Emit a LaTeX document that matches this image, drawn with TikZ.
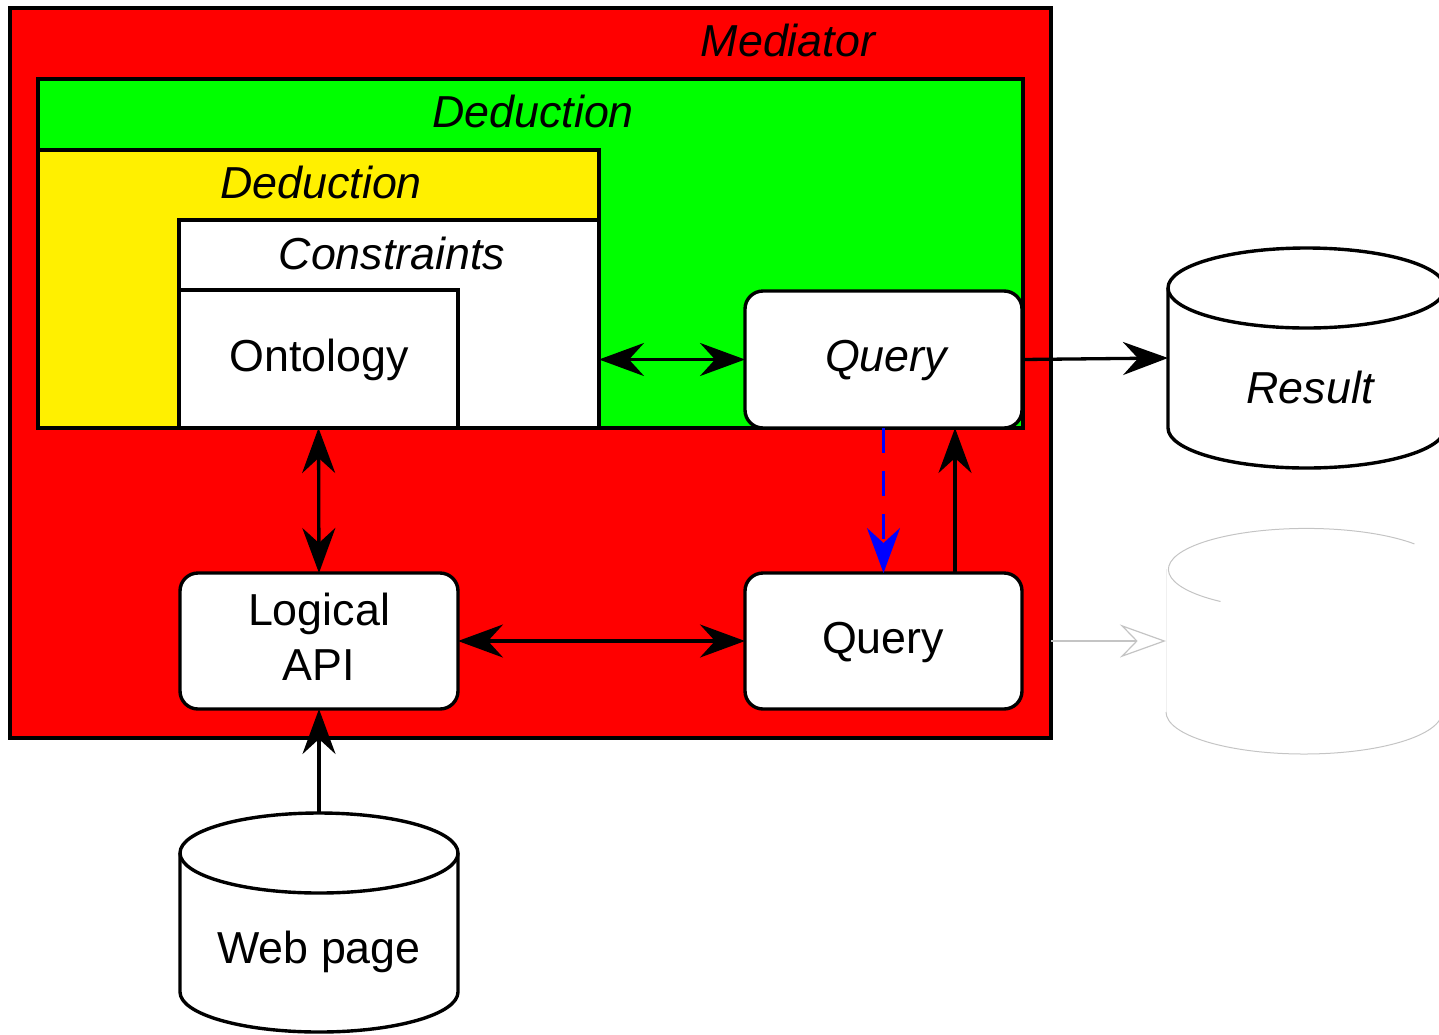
\documentclass[tikz,border=0pt]{standalone}
\usepackage{fontspec}
\setmainfont{Liberation Sans}
\usetikzlibrary{arrows.meta,calc}
\definecolor{medred}{HTML}{FF0000}
\definecolor{dedgreen}{HTML}{00FF00}
\definecolor{dedyellow}{HTML}{FFF000}
\definecolor{faintgray}{HTML}{C4C4C4}
\begin{document}
\begin{tikzpicture}[x=1pt,y=-1pt,
  box/.style={draw=black, line width=3.4pt, inner sep=0pt, outer sep=0pt},
  rbox/.style={box, fill=white, rounded corners=18pt},
  ghost/.style={inner sep=0pt, outer sep=0pt},
  lbl/.style={font=\fontsize{44.8}{50}\selectfont, inner sep=0pt, anchor=base},
  ilbl/.style={lbl, font=\fontsize{44.8}{50}\selectfont\itshape},
  conn/.style={line width=3.3pt, draw=black},
  tip/.style={-{Stealth[length=45pt,width=33pt,inset=15pt]}},
  dtip/.style={{Stealth[length=45pt,width=33pt,inset=15pt]}-{Stealth[length=45pt,width=33pt,inset=15pt]}},
  cyl/.style={line width=3.4pt, draw=black},
  fcyl/.style={line width=1pt, draw=faintgray},
]
\path[use as bounding box] (0,0) rectangle (1439,1034);
\path[clip] (0,0) rectangle (1439,1034);

% containers
\node[box, fill=medred, minimum width=1041pt, minimum height=730pt] (mediator) at (530.5,373) {};
\node[ilbl] (medlbl) at (788,56) {Mediator};
\node[box, fill=dedgreen, minimum width=985pt, minimum height=349pt] (green) at (530.5,253.5) {};
\node[ilbl] (greenlbl) at (533,127) {Deduction};
\node[box, fill=dedyellow, minimum width=561pt, minimum height=278pt] (yellow) at (318.5,289) {};
\node[ilbl] (yellowlbl) at (321,198) {Deduction};
\node[box, fill=white, minimum width=420pt, minimum height=208pt] (constraints) at (389,324) {};
\node[ilbl] (conslbl) at (392,269) {Constraints};
\node[box, fill=white, minimum width=279pt, minimum height=138pt] (ontology) at (318.5,359) {};
\node[lbl] (ontlbl) at (319,371) {Ontology};

% process boxes
\node[rbox, minimum width=277pt, minimum height=137pt] (querytop) at (883.5,359.5) {};
\node[ilbl] (qtlbl) at (886,371) {Query};
\node[rbox, minimum width=278pt, minimum height=136pt] (logical) at (319,641) {};
\node[font=\fontsize{44.8}{55}\selectfont, align=center, inner sep=0pt] (loglbl) at (319,636.5) {Logical\\API};
\node[rbox, minimum width=277pt, minimum height=136pt] (querybot) at (883.5,641) {};
\node[lbl] (qblbl) at (883,653) {Query};

% Result cylinder
\node[ghost, minimum width=277pt, minimum height=220pt] (result) at (1306.5,358) {};
\draw[cyl] (1168,288) -- (1168,428) arc[start angle=180, end angle=360, x radius=138.5pt, y radius=40pt] -- (1445,288);
\draw[cyl] (1306.5,288) ellipse [x radius=138.5pt, y radius=40pt];
\node[ilbl] (reslbl) at (1310,403) {Result};

% Web page cylinder
\node[ghost, minimum width=278pt, minimum height=219pt] (web) at (319,922.5) {};
\draw[cyl] (180,853) -- (180,992) arc[start angle=180, end angle=360, x radius=139pt, y radius=40pt] -- (458,853);
\draw[cyl] (319,853) ellipse [x radius=139pt, y radius=40pt];
\node[lbl] (weblbl) at (319,963) {Web page};

% faint cylinder
\node[ghost, minimum width=276pt, minimum height=226pt] (faint) at (1304,641) {};
\draw[fcyl] (1220.5,601.5) arc[start angle=231.5, end angle=38.5, x radius=138pt, y radius=41pt];
\draw[line width=0.8pt, draw=black!6] (1166,569) -- (1166,712);
\draw[fcyl] (1166,712) arc[start angle=180, end angle=360, x radius=138pt, y radius=42pt];

% connectors
\draw[conn, dtip] (constraints.east |- querytop.west) -- (querytop.west);
\draw[conn, tip] (querytop.east) -- (result.west);
\draw[conn, dtip] (ontology.south) -- (logical.north);
\draw[line width=3.3pt, draw=blue, dash pattern=on 25pt off 18pt, -{Stealth[length=45pt,width=33pt,inset=15pt,fill=blue]}] (querytop.south) -- (querybot.north);
\draw[conn, tip] ([xshift=71.5pt]querybot.north) -- ([xshift=71.5pt]querytop.south);
\draw[conn, dtip] (logical.east) -- (querybot.west);
\draw[conn, tip] (web.north) -- (logical.south);
\draw[line width=1.2pt, draw=faintgray, -{Stealth[open, length=46pt,width=33pt,inset=16pt]}] (mediator.east |- faint.west) -- (faint.west);
\end{tikzpicture}
\end{document}
